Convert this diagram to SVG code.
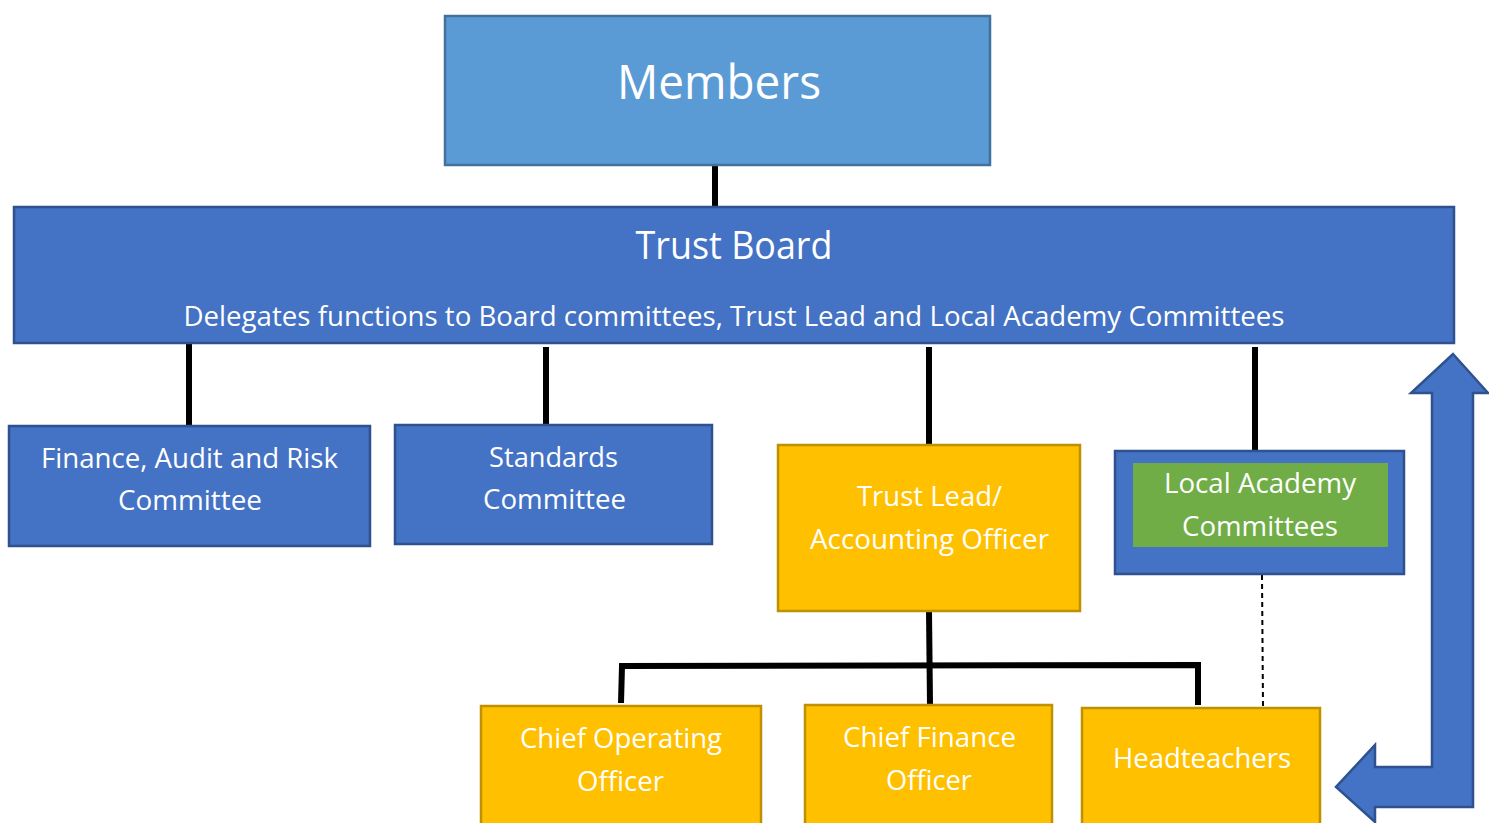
<svg xmlns="http://www.w3.org/2000/svg" width="1489" height="823" viewBox="0 0 1489 823">
<style>
.t{font-family:"Open Sans","Noto Sans","Liberation Sans",sans-serif;fill:#fff;text-anchor:middle}
.blue{fill:#4472C4;stroke:#2F528F;stroke-width:2.5}
.lblue{fill:#5B9BD5;stroke:#41719C;stroke-width:2.5}
.gold{fill:#FFC000;stroke:#BF9000;stroke-width:2.5}
.c{stroke:#000;stroke-width:6;fill:none}
</style>
<rect width="1489" height="823" fill="#fff"/>
<g id="connectors">
<line class="c" x1="715" y1="165" x2="715" y2="207"/>
<line class="c" x1="189" y1="343" x2="189" y2="426"/>
<line class="c" x1="546" y1="347" x2="546" y2="426"/>
<line class="c" x1="929" y1="347" x2="929" y2="445"/>
<line class="c" x1="1255" y1="347" x2="1255" y2="450"/>
<line class="c" x1="929" y1="611" x2="930" y2="705"/>
<polyline class="c" points="621,703 622,666 1198,665 1198,705"/>
<line x1="1262" y1="575" x2="1263" y2="707" stroke="#000" stroke-width="2" stroke-dasharray="5,4"/>
</g>
<g id="members">
<rect class="lblue" x="445" y="16" width="545" height="149"/>
<text class="t" x="719" y="99" font-size="48" textLength="204" lengthAdjust="spacingAndGlyphs">Members</text>
</g>
<g id="trust-board">
<rect class="blue" x="14" y="207" width="1440" height="136"/>
<text class="t" x="734" y="259" font-size="38" textLength="197" lengthAdjust="spacingAndGlyphs">Trust Board</text>
<text class="t" x="734" y="326" font-size="28" textLength="1101" lengthAdjust="spacingAndGlyphs">Delegates functions to Board committees, Trust Lead and Local Academy Committees</text>
</g>
<g id="finance">
<rect class="blue" x="9" y="426" width="361" height="120"/>
<text class="t" x="189.5" y="468" font-size="28" textLength="297" lengthAdjust="spacingAndGlyphs">Finance, Audit and Risk</text>
<text class="t" x="190" y="510" font-size="28" textLength="144" lengthAdjust="spacingAndGlyphs">Committee</text>
</g>
<g id="standards">
<rect class="blue" x="395" y="425" width="317" height="119"/>
<text class="t" x="553.5" y="467" font-size="28" textLength="129" lengthAdjust="spacingAndGlyphs">Standards</text>
<text class="t" x="554.5" y="509" font-size="28" textLength="143" lengthAdjust="spacingAndGlyphs">Committee</text>
</g>
<g id="trust-lead">
<rect class="gold" x="778" y="445" width="302" height="166"/>
<text class="t" x="929.5" y="506" font-size="28" textLength="145" lengthAdjust="spacingAndGlyphs">Trust Lead/</text>
<text class="t" x="929.5" y="549" font-size="28" textLength="239" lengthAdjust="spacingAndGlyphs">Accounting Officer</text>
</g>
<g id="local-academy">
<rect class="blue" x="1115" y="451" width="289" height="123"/>
<rect x="1133" y="463" width="255" height="84" fill="#70AD47"/>
<text class="t" x="1260" y="493" font-size="28" textLength="192" lengthAdjust="spacingAndGlyphs">Local Academy</text>
<text class="t" x="1260" y="536" font-size="28" textLength="156" lengthAdjust="spacingAndGlyphs">Committees</text>
</g>
<g id="coo">
<rect class="gold" x="481" y="706" width="280" height="125"/>
<text class="t" x="621" y="748" font-size="28" textLength="202" lengthAdjust="spacingAndGlyphs">Chief Operating</text>
<text class="t" x="620.5" y="791" font-size="28" textLength="87" lengthAdjust="spacingAndGlyphs">Officer</text>
</g>
<g id="cfo">
<rect class="gold" x="805" y="705" width="247" height="125"/>
<text class="t" x="929.5" y="747" font-size="28" textLength="173" lengthAdjust="spacingAndGlyphs">Chief Finance</text>
<text class="t" x="929" y="790" font-size="28" textLength="86" lengthAdjust="spacingAndGlyphs">Officer</text>
</g>
<g id="headteachers">
<rect class="gold" x="1082" y="708" width="238" height="125"/>
<text class="t" x="1202" y="768" font-size="28" textLength="178" lengthAdjust="spacingAndGlyphs">Headteachers</text>
</g>
<g id="arrow">
<polygon class="blue" points="1453,354 1488,393 1473,393 1473,807 1375,807 1375,822 1336,787 1375,745 1375,767 1432,767 1432,393 1411,393"/>
</g>
</svg>
